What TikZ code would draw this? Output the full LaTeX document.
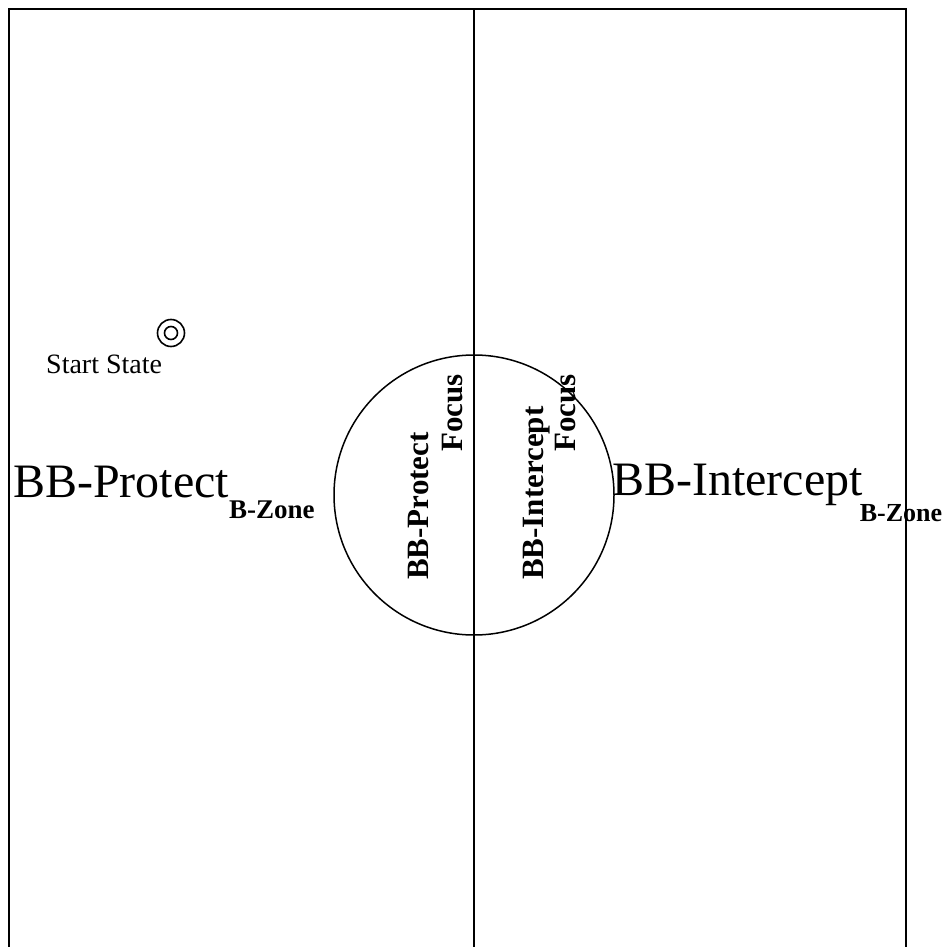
\documentclass[tikz,border=0pt]{standalone}
\usepackage{fontspec}
\setmainfont{Liberation Serif}
\usetikzlibrary{positioning}

\begin{document}
\begin{tikzpicture}[x=1pt, y=-1pt,
        wall/.style={line width=2pt},
        zonelabel/.style={anchor=base west, inner sep=0pt, font=\fontsize{48}{48}\selectfont},
        focuslabel/.style={anchor=base west, rotate=90, inner sep=0pt, font=\fontsize{31}{31}\selectfont\bfseries},
        startmark/.style={circle, draw, line width=1.6pt, inner sep=0pt}]
        \useasboundingbox (0,0) rectangle (946,947);

        % Field boundary and the line between the two halves
        \draw[wall] (9,947) -- (9,9) -- (906,9) -- (906,947);
        \draw[wall] (474,9) -- (474,947);

        % Focus region in the middle
        \draw[line width=1.5pt] (474,495) circle[radius=140pt];

        % Start state
        \node[startmark, minimum size=27pt] (start) at (171,333) {};
        \node[startmark, minimum size=13pt] (startcore) at (start.center) {};
        \node[anchor=base west, inner sep=0pt, font=\fontsize{28}{28}\selectfont] (startlabel) at (46,373) {Start State};

        % Zone labels
        \node[zonelabel] (protectzone) at (13,497) {BB-Protect\raisebox{-21pt}{\fontsize{27}{27}\selectfont\bfseries B-Zone}};
        \node[zonelabel] (interceptzone) at (612,495) {BB-Intercept\hspace{-3pt}\raisebox{-26pt}{\fontsize{26}{26}\selectfont\bfseries B-Zone}};

        % Focus labels inside the circle
        \node[focuslabel] (protectfocus) at (428,580) {BB-Protect};
        \node[focuslabel] (protectfocus2) at (462,452) {Focus};
        \node[focuslabel] (interceptfocus) at (543,580) {BB-Intercept};
        \node[focuslabel] (interceptfocus2) at (575,452) {Focus};
    \end{tikzpicture}
\end{document}
